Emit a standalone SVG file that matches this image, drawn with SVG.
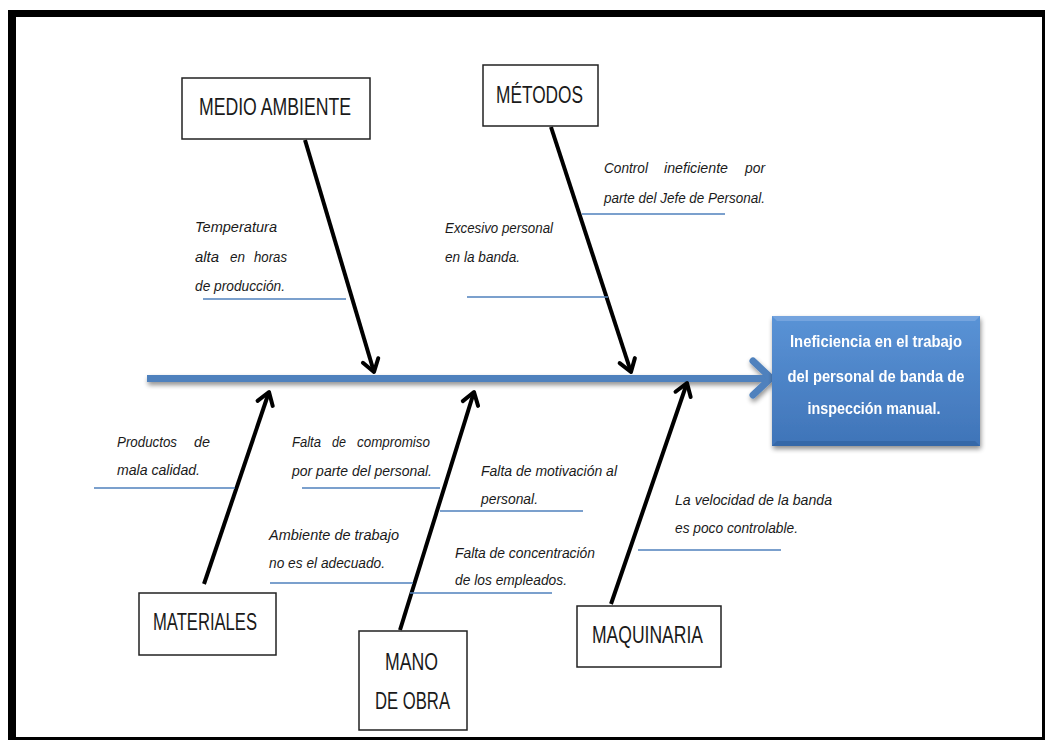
<svg xmlns="http://www.w3.org/2000/svg" width="1045" height="740" viewBox="0 0 1045 740">
<defs>
<style>
.box{fill:#fff;stroke:#222;stroke-width:1.5}
.cat{font-family:"Liberation Sans",Arial,sans-serif;font-size:23px;fill:#1a1a1a}
.t{font-family:"Liberation Sans",Arial,sans-serif;font-size:15px;font-style:italic;fill:#1a1a1a}
.ul{stroke:#4f81bd;stroke-width:1.6}
.bone{stroke:#000;stroke-width:4;fill:none}
.res{font-family:"Liberation Sans",Arial,sans-serif;font-size:17px;font-weight:bold;fill:#fff}
</style>
<marker id="ah" markerUnits="userSpaceOnUse" markerWidth="30" markerHeight="30" refX="15" refY="15" orient="auto" overflow="visible">
<path d="M3,7 L15,15 L3,23" fill="none" stroke="#000" stroke-width="4" stroke-linecap="round" stroke-linejoin="round"/>
</marker>
<linearGradient id="rg" x1="0" y1="0" x2="0" y2="1">
<stop offset="0" stop-color="#5a93d6"/>
<stop offset="1" stop-color="#3f74b8"/>
</linearGradient>
<filter id="sh" x="-20%" y="-20%" width="140%" height="160%">
<feGaussianBlur in="SourceAlpha" stdDeviation="2.5"/>
<feOffset dx="1" dy="3" result="b"/>
<feComponentTransfer><feFuncA type="linear" slope="0.45"/></feComponentTransfer>
<feMerge><feMergeNode/><feMergeNode in="SourceGraphic"/></feMerge>
</filter>
</defs>
<rect width="1045" height="740" fill="#fff"/>
<g id="frame">
<rect x="8" y="10" width="1037" height="7" fill="#000"/>
<rect x="8" y="10" width="8" height="730" fill="#000"/>
<rect x="1042" y="10" width="3" height="730" fill="#000"/>
<rect x="8" y="737" width="1037" height="3" fill="#000"/>
</g>
<g id="spine" filter="url(#sh)">
<line x1="147" y1="378.5" x2="768" y2="378.5" stroke="#4f81bd" stroke-width="7"/>
<path d="M753,361 L771,378 L753,395" fill="none" stroke="#4f81bd" stroke-width="7" stroke-linecap="round" stroke-linejoin="round"/>
</g>
<g id="effect" filter="url(#sh)">
<rect x="772" y="316" width="208" height="130" fill="url(#rg)"/>
<path d="M772,316 L980,316 L975,321 L777,321 Z" fill="#7aa9e0" opacity="0.8"/>
<path d="M772,446 L980,446 L975,441 L777,441 Z" fill="#2f5f9c" opacity="0.6"/>
<text class="res" x="876" y="347" text-anchor="middle" textLength="172" lengthAdjust="spacingAndGlyphs">Ineficiencia  en el trabajo</text>
<text class="res" x="876" y="382" text-anchor="middle" textLength="177" lengthAdjust="spacingAndGlyphs">del personal de banda de</text>
<text class="res" x="874" y="414" text-anchor="middle" textLength="133" lengthAdjust="spacingAndGlyphs">inspección  manual.</text>
</g>
<g id="connectors">
<line class="bone" x1="305" y1="140" x2="374" y2="372" marker-end="url(#ah)"/>
<line class="bone" x1="551" y1="127" x2="631" y2="372" marker-end="url(#ah)"/>
<line class="bone" x1="204" y1="584" x2="269" y2="392" marker-end="url(#ah)"/>
<line class="bone" x1="400" y1="630" x2="474" y2="392" marker-end="url(#ah)"/>
<line class="bone" x1="611" y1="604" x2="687" y2="383" marker-end="url(#ah)"/>
<line class="ul" x1="203" y1="299" x2="346" y2="299"/>
<line class="ul" x1="467" y1="297" x2="608" y2="297"/>
<line class="ul" x1="582" y1="214" x2="725" y2="214"/>
<line class="ul" x1="94" y1="488" x2="235" y2="488"/>
<line class="ul" x1="302" y1="488" x2="440" y2="488"/>
<line class="ul" x1="440" y1="511" x2="583" y2="511"/>
<line class="ul" x1="270" y1="583" x2="413" y2="583"/>
<line class="ul" x1="410" y1="593" x2="552" y2="593"/>
<line class="ul" x1="638" y1="550" x2="781" y2="550"/>
</g>
<g id="medio-ambiente">
<rect class="box" x="182" y="78" width="188" height="61"/>
<text class="cat" x="199" y="115" textLength="152" lengthAdjust="spacingAndGlyphs">MEDIO AMBIENTE</text>
</g>
<g id="metodos">
<rect class="box" x="483" y="65" width="115" height="61"/>
<text class="cat" x="496" y="103" textLength="87" lengthAdjust="spacingAndGlyphs">MÉTODOS</text>
</g>
<g id="materiales">
<rect class="box" x="139" y="593" width="137" height="62"/>
<text class="cat" x="153" y="630" textLength="104" lengthAdjust="spacingAndGlyphs">MATERIALES</text>
</g>
<g id="mano-de-obra">
<rect class="box" x="359" y="631" width="108" height="99"/>
<text class="cat" x="385" y="670" textLength="53" lengthAdjust="spacingAndGlyphs">MANO</text>
<text class="cat" x="375" y="709" textLength="75" lengthAdjust="spacingAndGlyphs">DE OBRA</text>
</g>
<g id="maquinaria">
<rect class="box" x="577" y="606" width="144" height="61"/>
<text class="cat" x="592" y="643" textLength="111" lengthAdjust="spacingAndGlyphs">MAQUINARIA</text>
</g>
<g id="cause-temperatura">
<text class="t" x="195" y="232" textLength="82" lengthAdjust="spacingAndGlyphs">Temperatura</text>
<text class="t" y="262"><tspan x="195" textLength="24" lengthAdjust="spacingAndGlyphs">alta</tspan><tspan x="230" textLength="15" lengthAdjust="spacingAndGlyphs">en</tspan><tspan x="254" textLength="33" lengthAdjust="spacingAndGlyphs">horas</tspan></text>
<text class="t" x="195" y="291" textLength="90" lengthAdjust="spacingAndGlyphs">de producción.</text>
</g>
<g id="cause-excesivo">
<text class="t" x="445" y="233" textLength="108" lengthAdjust="spacingAndGlyphs">Excesivo personal</text>
<text class="t" x="445" y="262" textLength="75" lengthAdjust="spacingAndGlyphs">en la banda.</text>
</g>
<g id="cause-control">
<text class="t" y="173"><tspan x="604" textLength="44" lengthAdjust="spacingAndGlyphs">Control</tspan><tspan x="664" textLength="64" lengthAdjust="spacingAndGlyphs">ineficiente</tspan><tspan x="745" textLength="20" lengthAdjust="spacingAndGlyphs">por</tspan></text>
<text class="t" x="604" y="203" textLength="161" lengthAdjust="spacingAndGlyphs">parte del Jefe de Personal.</text>
</g>
<g id="cause-productos">
<text class="t" y="447"><tspan x="117" textLength="60" lengthAdjust="spacingAndGlyphs">Productos</tspan><tspan x="194" textLength="16" lengthAdjust="spacingAndGlyphs">de</tspan></text>
<text class="t" x="117" y="475" textLength="83" lengthAdjust="spacingAndGlyphs">mala calidad.</text>
</g>
<g id="cause-compromiso">
<text class="t" y="447"><tspan x="292" textLength="29" lengthAdjust="spacingAndGlyphs">Falta</tspan><tspan x="332" textLength="14" lengthAdjust="spacingAndGlyphs">de</tspan><tspan x="357" textLength="73" lengthAdjust="spacingAndGlyphs">compromiso</tspan></text>
<text class="t" x="292" y="476" textLength="140" lengthAdjust="spacingAndGlyphs">por parte del personal.</text>
</g>
<g id="cause-motivacion">
<text class="t" x="481" y="476" textLength="136" lengthAdjust="spacingAndGlyphs">Falta de motivación al</text>
<text class="t" x="481" y="504" textLength="57" lengthAdjust="spacingAndGlyphs">personal.</text>
</g>
<g id="cause-ambiente">
<text class="t" x="269" y="540" textLength="130" lengthAdjust="spacingAndGlyphs">Ambiente de trabajo</text>
<text class="t" x="269" y="568" textLength="116" lengthAdjust="spacingAndGlyphs">no es el adecuado.</text>
</g>
<g id="cause-concentracion">
<text class="t" x="455" y="558" textLength="140" lengthAdjust="spacingAndGlyphs">Falta de concentración</text>
<text class="t" x="455" y="585" textLength="112" lengthAdjust="spacingAndGlyphs">de los empleados.</text>
</g>
<g id="cause-velocidad">
<text class="t" x="675" y="505" textLength="157" lengthAdjust="spacingAndGlyphs">La velocidad de la banda</text>
<text class="t" x="675" y="533" textLength="123" lengthAdjust="spacingAndGlyphs">es poco controlable.</text>
</g>
</svg>
